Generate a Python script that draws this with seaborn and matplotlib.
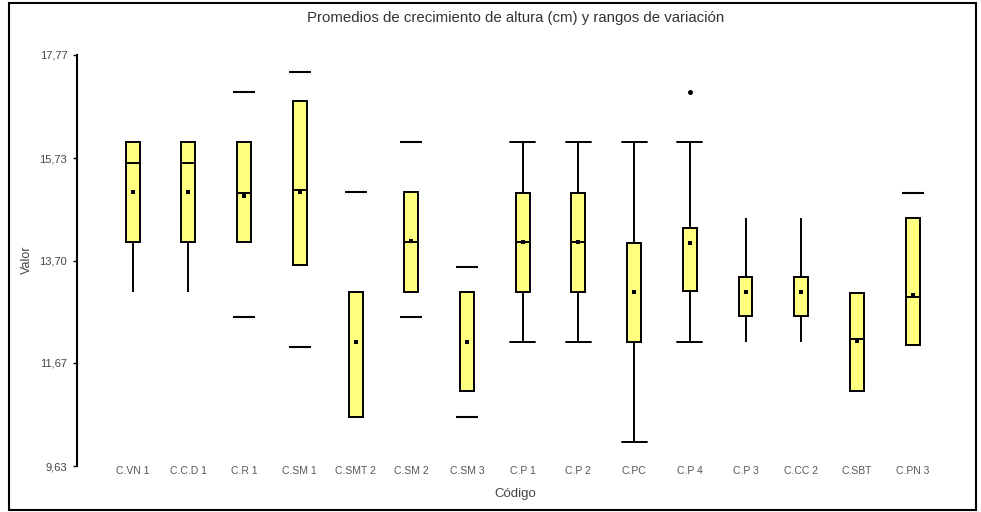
import numpy as np
import pandas as pd
import matplotlib
matplotlib.use("Agg")
import matplotlib.pyplot as plt
import seaborn as sns
from matplotlib.patches import Rectangle

# Growth codes (x categories)
codes = ["C.VN 1", "C.C.D 1", "C.R 1", "C.SM 1", "C.SMT 2", "C.SM 2", "C.SM 3",
         "C.P 1", "C.P 2", "C.PC", "C.P 4", "C.P 3", "C.CC 2", "C.SBT", "C.PN 3"]

# Box statistics per code (cm)
whisker_low = [13.08, 13.08, 14.07, 13.61, 10.61, 13.08, 11.12,
               12.09, 12.09, 10.11, 12.09, 12.09, 12.09, 11.12, 12.03]
q1 = [14.07, 14.07, 14.07, 13.61, 10.61, 13.08, 11.12,
      13.08, 13.08, 12.09, 13.10, 12.61, 12.61, 11.12, 12.03]
median = [15.64, 15.64, 15.04, 15.10, 13.08, 14.07, 13.08,
          14.07, 14.07, 14.05, 14.34, 13.38, 13.38, 12.14, 12.98]
q3 = [16.05, 16.05, 16.05, 16.85, 13.08, 15.06, 13.08,
      15.04, 15.04, 14.05, 14.34, 13.38, 13.38, 13.06, 14.54]
whisker_high = [16.05, 16.05, 16.05, 16.85, 13.08, 15.06, 13.08,
                16.05, 16.05, 16.05, 16.05, 14.54, 14.54, 13.06, 14.54]
means = [15.06, 15.06, 14.98, 15.06, 12.09, 14.09, 12.09,
         14.07, 14.07, 13.08, 14.04, 13.08, 13.08, 12.11, 13.02]

# Extreme values shown as short dashes
extreme_codes = ["C.R 1", "C.R 1", "C.SM 1", "C.SM 1", "C.SMT 2",
                 "C.SM 2", "C.SM 2", "C.SM 3", "C.SM 3", "C.PN 3"]
extreme_values = [17.04, 12.59, 17.44, 11.99, 15.06,
                  16.05, 12.59, 13.58, 10.61, 15.04]

# Outlying observation
outlier_codes = ["C.P 4"]
outlier_values = [17.04]

y_ticks = [9.63, 11.67, 13.70, 15.73, 17.77]

# Cap widths per box (end bars only on the C.P series)
cap_widths = [0.0, 0.0, 0.0, 0.0, 0.0, 0.0, 0.0,
              0.45, 0.45, 0.45, 0.45, 0.0, 0.0, 0.0, 0.0]

sns.set_theme(style="white")
plt.rcParams["font.family"] = ["Liberation Sans", "DejaVu Sans"]

rows = []
for c, a, b, m, d, e in zip(codes, whisker_low, q1, median, q3, whisker_high):
    for v in (a, b, m, d, e):
        rows.append({"Código": c, "Valor": v})
box_df = pd.DataFrame(rows)

W, H = 981, 512
fig = plt.figure(figsize=(W / 100, H / 100), dpi=100)
ax = fig.add_axes([77 / W, 1 - 466 / H, (960 - 77) / W, (466 - 55) / H])

sns.boxplot(data=box_df, x="Código", y="Valor", order=codes, whis=(0, 100),
            width=0.25, color="#ffff80", saturation=1, linecolor="black",
            linewidth=1.4, showfliers=False, capwidths=np.array(cap_widths),
            ax=ax)

sns.stripplot(x=codes, y=means, order=codes, jitter=False, marker="s",
              size=3.4, color="black", linewidth=0, ax=ax)
sns.stripplot(x=extreme_codes, y=extreme_values, order=codes, jitter=False,
              marker="_", size=16, color="black", linewidth=1.5, ax=ax)
sns.stripplot(x=outlier_codes, y=outlier_values, order=codes, jitter=False,
              marker="o", size=3.6, color="black", linewidth=0, ax=ax)

ax.set_xlim(-1, 14.85)
ax.set_ylim(9.63, 17.77)
ax.set_yticks(y_ticks)
ax.set_yticklabels([f"{v:.2f}".replace(".", ",") for v in y_ticks])
ax.set_xlabel("")
ax.set_ylabel("")

for side in ("top", "right", "bottom"):
    ax.spines[side].set_visible(False)
ax.spines["left"].set_color("black")
ax.spines["left"].set_linewidth(1.5)

ax.tick_params(axis="y", left=True, length=3, width=1, color="black",
               labelsize=8, labelcolor="#444444", pad=4)
ax.tick_params(axis="x", bottom=False, labelsize=7.5, labelcolor="#555555",
               pad=-6)

fig.text(516 / W, 1 - 18 / H,
         "Promedios de crecimiento de altura (cm) y rangos de variación",
         ha="center", va="center", fontsize=10.8, color="#333333")
fig.text(515 / W, 1 - 494 / H, "Código", ha="center", va="center",
         fontsize=9.5, color="#444444")
fig.text(27 / W, 1 - 260 / H, "Valor", ha="center", va="center",
         rotation=90, fontsize=9, color="#444444")

fig.add_artist(Rectangle((9 / W, 2 / H), (976 - 9) / W, (509 - 2) / H,
                         transform=fig.transFigure, fill=False,
                         edgecolor="black", linewidth=1.5))

fig.savefig("out.png", dpi=100, facecolor="white")
